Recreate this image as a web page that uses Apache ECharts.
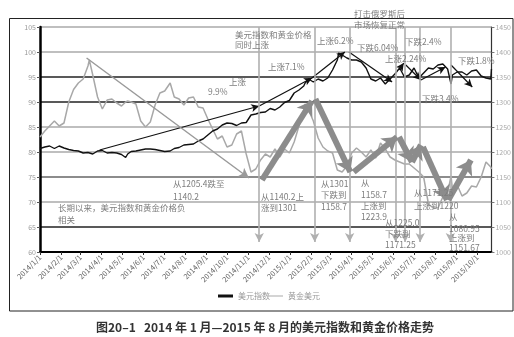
<!DOCTYPE html>
<html><head><meta charset="utf-8">
<script src="https://cdn.jsdelivr.net/npm/echarts@6/dist/echarts.min.js"></script>
<style>html,body{margin:0;padding:0;background:#fff}#c{width:514px;height:337px}</style>
</head><body><div id="c"></div>
<script>
// ---------- data ----------
const tickLabels = ['2014/1/1','2014/2/1','2014/3/1','2014/4/1','2014/5/1','2014/6/1','2014/7/1','2014/8/1','2014/9/1','2014/10/1','2014/11/1','2014/12/1','2015/1/1','2015/2/1','2015/3/1','2015/4/1','2015/5/1','2015/6/1','2015/7/1','2015/8/1','2015/9/1','2015/10/1'];

const dates = ['2014-01-01','2014-01-08','2014-01-15','2014-01-22','2014-01-29','2014-02-05','2014-02-12','2014-02-19','2014-02-26','2014-03-05','2014-03-12','2014-03-14','2014-03-19','2014-03-26','2014-04-02','2014-04-09','2014-04-16','2014-04-23','2014-04-30','2014-05-06','2014-05-09','2014-05-14','2014-05-21','2014-05-28','2014-06-04','2014-06-11','2014-06-18','2014-06-25','2014-07-02','2014-07-10','2014-07-16','2014-07-23','2014-07-30','2014-08-06','2014-08-13','2014-08-20','2014-08-27','2014-09-03','2014-09-10','2014-09-17','2014-09-24','2014-10-01','2014-10-08','2014-10-15','2014-10-22','2014-10-29','2014-11-05','2014-11-12','2014-11-19','2014-11-26','2014-12-03','2014-12-10','2014-12-17','2014-12-24','2014-12-31','2015-01-07','2015-01-14','2015-01-21','2015-01-23','2015-01-28','2015-02-04','2015-02-11','2015-02-18','2015-02-25','2015-03-04','2015-03-11','2015-03-13','2015-03-18','2015-03-25','2015-04-01','2015-04-08','2015-04-15','2015-04-22','2015-04-29','2015-05-06','2015-05-13','2015-05-20','2015-05-27','2015-06-03','2015-06-10','2015-06-17','2015-06-24','2015-07-01','2015-07-08','2015-07-15','2015-07-22','2015-07-29','2015-08-05','2015-08-12','2015-08-19','2015-08-24','2015-08-26','2015-09-02','2015-09-09','2015-09-16','2015-09-23','2015-09-30','2015-10-07','2015-10-14','2015-10-21','2015-10-22'];

const dxy = [80.7,81.0,81.2,80.7,81.2,80.8,80.5,80.3,80.2,79.8,79.9,79.7,79.6,80.2,80.3,79.8,79.9,79.8,79.5,78.9,79.6,80.1,80.2,80.4,80.6,80.6,80.5,80.3,80.1,80.2,80.7,80.9,81.4,81.5,81.6,82.2,82.6,83.4,84.2,84.6,85.4,85.8,85.7,85.3,85.8,85.9,87.4,87.6,87.9,88.0,88.7,88.4,89.0,89.9,90.3,91.8,92.4,93.2,93.8,94.6,94.0,94.6,94.2,94.8,96.4,98.4,99.8,99.4,98.8,98.4,98.4,98.0,96.8,94.6,94.2,94.8,93.6,94.6,95.6,96.8,95.0,95.4,96.8,94.8,95.8,96.8,96.6,97.4,97.6,96.6,93.6,95.4,96.0,96.0,95.4,96.2,96.4,95.2,94.8,94.6,96.6];

const gold = [1230,1242,1252,1262,1252,1258,1300,1325,1338,1346,1372,1384,1354,1310,1286,1304,1306,1298,1292,1300,1302,1300,1296,1262,1250,1260,1294,1318,1322,1338,1310,1306,1294,1308,1310,1290,1288,1266,1246,1226,1232,1210,1214,1236,1242,1196,1160,1166,1184,1196,1190,1206,1190,1206,1198,1220,1252,1284,1296,1284,1262,1228,1210,1202,1198,1164,1160,1160,1172,1198,1208,1200,1190,1204,1188,1218,1206,1190,1184,1180,1176,1176,1168,1160,1150,1096,1088,1088,1110,1118,1152,1126,1134,1112,1118,1132,1130,1150,1180,1170,1166];

// annotation arrows (date, value)
const dxyArrows = [
  [['2014-03-29',80.4],['2014-11-17',89.2]],
  [['2014-11-17',89.2],['2015-02-02',94.8]],
  [['2015-02-02',94.8],['2015-03-22',100.0]],
  [['2015-03-28',100.0],['2015-05-30',94.0]],
  [['2015-06-09',96.4],['2015-06-16',97.8]],
  [['2015-06-19',97.4],['2015-07-11',94.4]],
  [['2015-07-11',94.4],['2015-08-16',97.0]],
  [['2015-08-24',97.4],['2015-09-24',93.0]]
];
const goldTrend = [['2014-03-10',1388],['2014-11-02',1148]];
const goldSwings = [
  [['2014-11-21',1144],['2015-02-02',1302]],
  [['2015-02-07',1306],['2015-03-30',1160]],
  [['2015-04-04',1160],['2015-06-06',1230]],
  [['2015-06-09',1230],['2015-06-28',1180]],
  [['2015-06-28',1180],['2015-07-11',1214]],
  [['2015-07-14',1210],['2015-08-18',1104]],
  [['2015-08-20',1104],['2015-09-22',1184]]
];
const markerDates = ['2014-11-17','2015-02-06','2015-03-29','2015-06-04','2015-06-18','2015-07-10','2015-08-23'];

// ---------- layout (text annotations) ----------
const notes = [
  [235,35,'美元指数和黄金价格'],[235,45,'同时上涨'],
  [268,67,'上涨7.1%'],[317,41,'上涨6.2%'],
  [229,82,'上涨'],[208,92,'9.9%'],
  [173,184,'从1205.4跌至'],[173,197,'1140.2'],
  [261,197,'从1140.2上'],[261,208,'涨到1301'],
  [321,184,'从1301'],[321,195,'下跌到'],[321,207,'1158.7'],
  [58,208,'长期以来，美元指数和黄金价格负'],[58,220,'相关'],
  [361,183,'从'],[361,195,'1158.7'],[361,206,'上涨到'],[361,217,'1223.9'],
  [385,223,'从1225.0'],[385,234,'下跌到'],[385,245,'1171.25'],
  [414,193,'从1171.25'],[414,206,'上涨到1220'],
  [449,217,'从'],[449,229,'1080.95'],[449,238,'上涨到'],[449,248,'1151.67'],
  [354,14,'打击俄罗斯后'],[354,25,'市场恢复正常'],
  [357,48,'下跌6.04%'],[385,59,'上涨2.24%'],[405,42,'下跌2.4%'],
  [422,99,'下跌3.4%'],[458,61,'下跌1.8%']
];

function ts(s){ const p = s.split(/[-\/]/).map(Number); return new Date(p[0], p[1]-1, p[2]).getTime(); }
const tickTs = tickLabels.map(ts);
const FONT = '"Noto Sans CJK SC","Noto Sans",sans-serif';

const chart = echarts.init(document.getElementById('c'), null, {renderer:'canvas'});

const dxyMark = dxyArrows.map(([a,b]) => [
  {coord:[ts(a[0]),a[1]], symbol:'none'},
  {coord:[ts(b[0]),b[1]], symbol:'arrow', symbolSize:[6,8]}
]);
const goldMark = [];
markerDates.forEach(d => goldMark.push([
  {coord:[ts(d),1450], symbol:'none', lineStyle:{color:'#b0b0b0', width:1.6, type:'solid'}},
  {coord:[ts(d),1020], symbol:'arrow', symbolSize:[7,9]}
]));
goldMark.push([
  {coord:[ts(goldTrend[0][0]),goldTrend[0][1]], symbol:'none', lineStyle:{color:'#9a9a9a', width:1.5, type:'solid'}},
  {coord:[ts(goldTrend[1][0]),goldTrend[1][1]], symbol:'arrow', symbolSize:[8,10]}
]);
goldSwings.forEach(([a,b]) => goldMark.push([
  {coord:[ts(a[0]),a[1]], symbol:'none', lineStyle:{color:'#8c8c8c', width:6, type:'solid'}},
  {coord:[ts(b[0]),b[1]], symbol:'arrow', symbolSize:[14,14]}
]));

const graphics = [
  {type:'rect', z:0, shape:{x:9.5,y:18.5,width:503.5,height:292.5}, style:{fill:'none', stroke:'#222', lineWidth:1}},
  {type:'text', z:100, x:265, y:327, style:{text:'图20–1   2014 年 1 月—2015 年 8 月的美元指数和黄金价格走势', fontSize:12, fontWeight:'bold', fill:'#333', fontFamily:FONT, align:'center', verticalAlign:'middle'}}
];
notes.forEach(([x,y,t]) => graphics.push({type:'text', z:100, x:x, y:y, style:{text:t, fontSize:8.5, fill:'#7d7d7d', fontFamily:FONT, verticalAlign:'middle'}}));

chart.setOption({
  animation:false,
  textStyle:{fontFamily:FONT},
  grid:{left:40, right:21, top:27, bottom:85, containLabel:false},
  legend:[
    {data:[{name:'美元指数', icon:'rect'}], left:213, top:287, itemWidth:15, itemHeight:3, itemGap:4, textStyle:{fontSize:8, color:'#999'}},
    {data:[{name:'黄金美元', icon:'rect'}], left:264, top:287, itemWidth:14, itemHeight:1, itemGap:4, textStyle:{fontSize:8, color:'#999'}}
  ],
  xAxis:{
    type:'value', min:ts('2014-01-01'), max:ts('2015-10-22'), scale:true,
    axisLine:{lineStyle:{color:'#000', width:2}},
    axisTick:{show:true, customValues:tickTs, length:3, lineStyle:{color:'#333'}},
    axisLabel:{customValues:tickTs, rotate:45, fontSize:7.5, color:'#666', margin:4,
      formatter:function(v){ const d=new Date(v); return d.getFullYear()+'/'+(d.getMonth()+1)+'/'+d.getDate(); }},
    splitLine:{show:false}
  },
  yAxis:[
    {type:'value', min:60, max:105, interval:5, position:'left',
     axisLine:{show:true, lineStyle:{color:'#000', width:2.5}},
     axisTick:{show:true, length:3, lineStyle:{color:'#555'}},
     axisLabel:{fontSize:7, color:'#999', margin:4},
     splitLine:{show:true, lineStyle:{color:['#222','#222','#aaa','#666','#aaa','#aaa','#222','#222','#aaa','#aaa'], width:1.5}}},
    {type:'value', min:1000, max:1450, interval:50, position:'right',
     axisLine:{show:true, lineStyle:{color:'#333', width:1.2}},
     axisTick:{show:true, length:3, lineStyle:{color:'#777'}},
     axisLabel:{fontSize:7, color:'#aaa', margin:4, formatter:function(v){ return String(v); }},
     splitLine:{show:false}}
  ],
  series:[
    {name:'美元指数', type:'line', yAxisIndex:0, showSymbol:false, z:4,
     color:'#111', lineStyle:{color:'#111', width:1.4},
     data:dates.map((d,i)=>[ts(d), dxy[i]]),
     markLine:{silent:true, animation:false, label:{show:false}, symbol:['none','arrow'],
       lineStyle:{color:'#111', width:1.2, type:'solid'}, emphasis:{disabled:true}, data:dxyMark}},
    {name:'黄金美元', type:'line', yAxisIndex:1, showSymbol:false, z:3,
     color:'#a8a8a8', lineStyle:{color:'#a8a8a8', width:1.5},
     data:dates.map((d,i)=>[ts(d), gold[i]]),
     markLine:{silent:true, animation:false, label:{show:false}, symbol:['none','arrow'],
       emphasis:{disabled:true}, data:goldMark}}
  ],
  graphic:graphics
});
</script></body></html>
